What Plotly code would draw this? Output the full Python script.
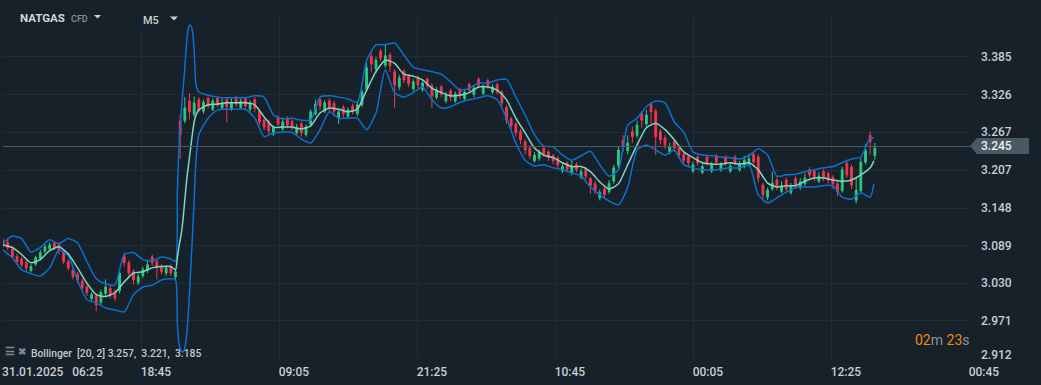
import plotly.graph_objects as go

# ---------- data ----------
candle_open = [
 3.097,3.094,3.083,3.072,3.068,3.062,3.050,3.060,3.069,3.080,
 3.084,3.093,3.090,3.080,3.064,3.050,3.044,3.033,3.024,3.006,
 3.010,3.000,3.014,3.022,3.016,3.018,3.072,3.062,3.048,3.031,
 3.042,3.050,3.071,3.064,3.056,3.046,3.056,3.040,3.285,3.285,
 3.316,3.295,3.318,3.300,3.320,3.303,3.320,3.305,3.318,3.304,
 3.320,3.306,3.319,3.303,3.318,3.300,3.286,3.282,3.264,3.290,
 3.272,3.288,3.284,3.266,3.280,3.263,3.280,3.296,3.318,3.300,
 3.316,3.312,3.290,3.306,3.292,3.308,3.296,3.310,3.335,3.386,
 3.366,3.394,3.372,3.388,3.362,3.338,3.362,3.355,3.335,3.352,
 3.334,3.350,3.340,3.322,3.338,3.316,3.332,3.316,3.334,3.320,
 3.342,3.326,3.350,3.328,3.348,3.330,3.342,3.330,3.306,3.288,
 3.280,3.268,3.252,3.242,3.222,3.226,3.242,3.236,3.230,3.226,
 3.206,3.218,3.203,3.216,3.196,3.208,3.194,3.186,3.164,3.178,
 3.174,3.190,3.215,3.254,3.238,3.268,3.262,3.296,3.280,3.310,
 3.300,3.268,3.258,3.236,3.252,3.242,3.232,3.228,3.206,3.228,
 3.204,3.228,3.206,3.230,3.208,3.228,3.206,3.228,3.208,3.213,
 3.216,3.232,3.228,3.184,3.165,3.178,3.192,3.174,3.192,3.172,
 3.194,3.180,3.186,3.208,3.206,3.190,3.205,3.202,3.196,3.186,
 3.175,3.218,3.212,3.160,3.175,3.220,3.262,3.230]
candle_high = [
 3.101,3.098,3.087,3.076,3.071,3.066,3.060,3.073,3.083,3.092,
 3.094,3.096,3.094,3.083,3.067,3.054,3.048,3.037,3.028,3.016,
 3.014,3.019,3.036,3.027,3.020,3.050,3.078,3.066,3.052,3.045,
 3.056,3.065,3.075,3.068,3.060,3.058,3.060,3.052,3.295,3.322,
 3.328,3.323,3.322,3.318,3.323,3.320,3.323,3.320,3.322,3.320,
 3.324,3.320,3.322,3.317,3.322,3.303,3.290,3.286,3.278,3.294,
 3.290,3.292,3.287,3.280,3.284,3.279,3.303,3.318,3.321,3.317,
 3.320,3.316,3.303,3.310,3.306,3.312,3.316,3.334,3.376,3.392,
 3.385,3.398,3.406,3.392,3.366,3.357,3.366,3.358,3.350,3.356,
 3.348,3.353,3.344,3.338,3.341,3.330,3.335,3.331,3.337,3.334,
 3.345,3.340,3.353,3.342,3.351,3.342,3.345,3.333,3.309,3.291,
 3.283,3.272,3.256,3.246,3.236,3.240,3.246,3.239,3.233,3.230,
 3.218,3.222,3.224,3.220,3.210,3.212,3.197,3.190,3.177,3.181,
 3.192,3.216,3.244,3.262,3.262,3.276,3.285,3.300,3.302,3.314,
 3.304,3.272,3.262,3.250,3.255,3.245,3.236,3.231,3.221,3.231,
 3.217,3.232,3.220,3.233,3.220,3.231,3.218,3.231,3.222,3.230,
 3.233,3.236,3.232,3.188,3.180,3.205,3.196,3.190,3.196,3.187,
 3.198,3.195,3.202,3.212,3.209,3.204,3.209,3.205,3.200,3.190,
 3.213,3.224,3.216,3.195,3.226,3.248,3.268,3.250]
candle_low = [
 3.086,3.082,3.068,3.059,3.055,3.048,3.047,3.057,3.066,3.077,
 3.081,3.082,3.075,3.060,3.050,3.036,3.030,3.019,3.010,3.002,
 2.986,2.996,3.010,3.006,3.002,3.014,3.056,3.040,3.028,3.027,
 3.038,3.046,3.057,3.036,3.044,3.042,3.041,3.036,3.225,3.281,
 3.287,3.291,3.298,3.296,3.304,3.300,3.306,3.302,3.282,3.300,
 3.307,3.303,3.304,3.299,3.298,3.278,3.270,3.264,3.261,3.276,
 3.269,3.273,3.270,3.263,3.260,3.260,3.276,3.293,3.301,3.297,
 3.298,3.292,3.280,3.290,3.288,3.295,3.292,3.307,3.331,3.362,
 3.360,3.378,3.368,3.362,3.305,3.333,3.344,3.338,3.331,3.336,
 3.330,3.335,3.305,3.318,3.322,3.312,3.316,3.313,3.319,3.316,
 3.329,3.322,3.336,3.325,3.335,3.327,3.326,3.308,3.280,3.272,
 3.260,3.248,3.232,3.225,3.219,3.222,3.228,3.222,3.217,3.211,
 3.203,3.204,3.199,3.204,3.193,3.193,3.170,3.170,3.160,3.163,
 3.170,3.186,3.210,3.236,3.232,3.250,3.258,3.274,3.276,3.280,
 3.231,3.248,3.240,3.232,3.236,3.225,3.218,3.214,3.203,3.214,
 3.201,3.214,3.203,3.215,3.205,3.214,3.203,3.215,3.205,3.210,
 3.213,3.212,3.188,3.162,3.160,3.175,3.176,3.171,3.174,3.169,
 3.178,3.176,3.183,3.195,3.190,3.187,3.190,3.186,3.178,3.166,
 3.172,3.195,3.178,3.155,3.172,3.216,3.232,3.224]
candle_close = [
 3.090,3.086,3.071,3.064,3.059,3.054,3.056,3.070,3.078,3.087,
 3.090,3.086,3.082,3.064,3.054,3.040,3.035,3.023,3.015,3.012,
 2.996,3.015,3.024,3.012,3.007,3.046,3.062,3.046,3.035,3.040,
 3.051,3.059,3.062,3.054,3.048,3.054,3.046,3.048,3.263,3.305,
 3.299,3.313,3.302,3.314,3.308,3.316,3.310,3.313,3.307,3.314,
 3.311,3.316,3.308,3.313,3.305,3.283,3.275,3.269,3.274,3.280,
 3.283,3.278,3.274,3.275,3.266,3.275,3.299,3.311,3.308,3.313,
 3.305,3.300,3.299,3.296,3.302,3.299,3.310,3.330,3.368,3.374,
 3.380,3.383,3.387,3.371,3.341,3.352,3.349,3.343,3.346,3.341,
 3.344,3.340,3.324,3.333,3.327,3.325,3.322,3.327,3.324,3.330,
 3.333,3.336,3.341,3.338,3.340,3.338,3.330,3.313,3.286,3.277,
 3.266,3.255,3.239,3.230,3.231,3.236,3.233,3.227,3.222,3.216,
 3.213,3.209,3.213,3.208,3.205,3.198,3.183,3.176,3.172,3.169,
 3.187,3.211,3.239,3.245,3.250,3.260,3.278,3.286,3.294,3.299,
 3.260,3.255,3.247,3.244,3.242,3.231,3.223,3.219,3.216,3.219,
 3.213,3.219,3.216,3.220,3.216,3.219,3.214,3.219,3.216,3.223,
 3.225,3.220,3.195,3.169,3.176,3.187,3.180,3.183,3.178,3.183,
 3.183,3.189,3.195,3.200,3.197,3.198,3.195,3.192,3.186,3.173,
 3.208,3.200,3.184,3.176,3.220,3.239,3.252,3.242]

band_bars = (list(range(0, 190, 10))
             + [185, 187, 189, 191, 193, 195, 197, 199, 201, 203, 205, 207, 210]
             + list(range(220, 940, 10)) + [934])
band_upper = [
 3.093,3.104,3.100,3.079,3.086,3.098,3.092,3.100,3.093,3.064,
 3.037,3.029,3.027,3.075,3.078,3.067,3.065,3.071,3.068,
 3.064,3.176,3.255,3.294,3.333,3.368,3.409,3.432,3.435,3.427,3.396,3.341,3.330,
 3.325,3.322,3.321,3.321,3.321,3.324,3.322,3.294,3.288,3.289,
 3.286,3.286,3.322,3.324,3.322,3.319,3.314,3.380,3.404,3.404,
 3.407,3.388,3.369,3.365,3.362,3.358,3.346,3.333,3.336,3.344,
 3.344,3.349,3.350,3.322,3.294,3.263,3.245,3.244,3.231,3.223,
 3.230,3.237,3.216,3.198,3.208,3.278,3.289,3.307,3.316,3.313,
 3.283,3.267,3.236,3.231,3.230,3.228,3.227,3.225,3.230,3.241,
 3.231,3.198,3.200,3.201,3.205,3.208,3.211,3.213,3.219,3.225,
 3.228,3.258,3.258]
band_mid = [
 3.090,3.086,3.075,3.062,3.067,3.081,3.087,3.076,3.054,3.030,
 3.012,3.009,3.015,3.032,3.046,3.048,3.054,3.056,3.056,
 3.051,3.070,3.090,3.106,3.129,3.161,3.192,3.216,3.239,3.263,3.283,3.294,3.302,
 3.310,3.311,3.313,3.313,3.313,3.310,3.291,3.275,3.275,3.275,
 3.272,3.277,3.297,3.305,3.303,3.299,3.303,3.333,3.362,3.380,
 3.375,3.358,3.355,3.349,3.336,3.329,3.324,3.325,3.329,3.338,
 3.338,3.333,3.318,3.289,3.266,3.242,3.231,3.227,3.219,3.213,
 3.213,3.205,3.189,3.178,3.186,3.216,3.247,3.274,3.281,3.271,
 3.255,3.236,3.227,3.219,3.217,3.217,3.219,3.217,3.219,3.208,
 3.187,3.181,3.183,3.183,3.190,3.195,3.195,3.192,3.190,3.192,
 3.200,3.211,3.222]
band_lower = [
 3.082,3.070,3.051,3.045,3.041,3.054,3.082,3.073,3.034,3.004,
 2.999,2.991,2.988,2.985,3.012,3.024,3.027,3.035,3.037,
 3.035,2.965,2.933,2.924,2.922,2.928,2.949,2.988,3.043,3.098,3.161,3.223,3.263,
 3.289,3.302,3.303,3.303,3.303,3.289,3.260,3.266,3.267,3.267,
 3.256,3.250,3.271,3.299,3.289,3.289,3.289,3.271,3.297,3.365,
 3.329,3.322,3.329,3.338,3.318,3.305,3.307,3.314,3.318,3.321,
 3.324,3.318,3.289,3.250,3.223,3.214,3.216,3.211,3.208,3.203,
 3.198,3.181,3.169,3.159,3.153,3.181,3.239,3.247,3.239,3.231,
 3.239,3.216,3.211,3.208,3.208,3.209,3.211,3.211,3.216,3.169,
 3.156,3.164,3.173,3.180,3.181,3.181,3.183,3.183,3.165,3.162,
 3.172,3.165,3.186]

last_price = 3.2445
y_tick_labels = ["3.385", "3.326", "3.267", "3.207", "3.148", "3.089", "3.030", "2.971", "2.912"]
y_label_values = [3.385, 3.326, 3.267, 3.207, 3.148, 3.089, 3.030, 2.971, 2.918]
y_grid_values = [3.385, 3.326, 3.2665, 3.207, 3.148, 3.089, 3.030, 2.971, 2.9125]
x_tick_labels = ["31.01.2025\u00a0\u00a0\u00a006:25", "18:45", "09:05", "21:25", "10:45", "00:05", "12:25", "00:45"]
x_label_bars = [53, 164, 312, 460, 608, 756, 904, 1052]
x_grid_bars = [0, 148, 296, 444, 592, 740, 888, 1036]

# ---------- style ----------
W, H = 1041, 385
BG = "#17212a"
GRID = "#212c35"
TEXT = "#c9ced1"
FONT = "Roboto, Arial, sans-serif"
RED = "#f5364f"
GREEN = "#2cc981"
BLUE = "#0a71cf"
MID = "#7ed6c5"


def px(x):
    return x / W


def py(y):
    return 1 - y / H


fig = go.Figure()
candle_bars = list(range(0, 5 * len(candle_close), 5))
fig.add_trace(go.Candlestick(
    x=candle_bars, open=candle_open, high=candle_high, low=candle_low, close=candle_close,
    increasing=dict(line=dict(color=GREEN, width=1), fillcolor=GREEN),
    decreasing=dict(line=dict(color=RED, width=1), fillcolor=RED),
    whiskerwidth=0, showlegend=False, hoverinfo="skip"))
for vals, col in ((band_upper, BLUE), (band_lower, BLUE), (band_mid, MID)):
    fig.add_trace(go.Scatter(x=band_bars, y=vals, mode="lines", showlegend=False, hoverinfo="skip",
                             line=dict(color=col, width=1.5, shape="spline", smoothing=0.6)))
# last-price line on the wider overlay axes
fig.add_trace(go.Scatter(x=[0, 1038], y=[last_price, last_price], mode="lines", xaxis="x2", yaxis="y2",
                         showlegend=False, hoverinfo="skip", line=dict(color="#4b5962", width=1)))

Y_RANGE = [2.911, 3.4462]
Y_DOMAIN = [26 / H, (H - 18) / H]
fig.update_layout(
    width=W, height=H, margin=dict(l=0, r=0, t=0, b=0), autosize=False, boxgap=0.45,
    paper_bgcolor=BG, plot_bgcolor="rgba(0,0,0,0)", showlegend=False,
    font=dict(family=FONT, color=TEXT, size=12),
    xaxis=dict(domain=[3 / W, 969 / W], range=[0, 1036], showgrid=False, zeroline=False, automargin=False,
               showticklabels=False, ticks="", rangeslider=dict(visible=False), anchor="y",
               minor=dict(tickmode="array", tickvals=x_grid_bars, showgrid=True, gridcolor=GRID, gridwidth=1, ticks="")),
    yaxis=dict(domain=Y_DOMAIN, range=Y_RANGE, side="right", anchor="x", zeroline=False, showgrid=False, automargin=False,
               showticklabels=False, ticks="",
               minor=dict(tickmode="array", tickvals=y_grid_values, showgrid=True, gridcolor=GRID, gridwidth=1, ticks="")),
    xaxis2=dict(domain=[3 / W, 1], range=[0, 1113.2], anchor="y2", side="bottom", automargin=False,
                showgrid=False, zeroline=False, showline=False,
                tickmode="array", tickvals=x_label_bars, ticktext=x_tick_labels,
                ticks="outside", ticklen=2, tickcolor="rgba(0,0,0,0)",
                tickfont=dict(family=FONT, size=12, color=TEXT, weight=500)),
    yaxis2=dict(domain=Y_DOMAIN, range=Y_RANGE, anchor="x2", visible=False, automargin=False),
)

# mask of the grid behind the M5 selector, last-price tag, menu carets
fig.add_shape(type="rect", xref="paper", yref="paper", line_width=0, fillcolor=BG,
              x0=px(120), x1=px(165), y0=py(32), y1=py(17))
poly = [(970, 146), (977, 138), (1029, 138), (1029, 154), (977, 154)]
fig.add_shape(type="path", xref="paper", yref="paper", line_width=0, fillcolor="#4a5a64",
              path="M " + " L ".join(f"{px(a):.5f},{py(b):.5f}" for a, b in poly) + " Z")
for pts in ([(94, 15), (101, 15), (97.5, 18.5)], [(170, 16.5), (178, 16.5), (174, 20.5)]):
    fig.add_shape(type="path", xref="paper", yref="paper", line_width=0, fillcolor="#c9ced1",
                  path="M " + " L ".join(f"{px(a):.5f},{py(b):.5f}" for a, b in pts) + " Z")


def note(x, y, text, size=12, color=TEXT, weight=None, anchor="left"):
    fig.add_annotation(xref="paper", yref="paper", x=px(x), y=py(y), text=text, showarrow=False,
                       xanchor=anchor, yanchor="middle", align="left", borderpad=0, borderwidth=0,
                       font=dict(family=FONT, size=size, color=color, weight=weight))


# price scale labels, placed on the price axis
for value, label in zip(y_label_values, y_tick_labels):
    fig.add_annotation(xref="paper", yref="y", x=px(981), y=value, text=label, showarrow=False,
                       xanchor="left", yanchor="middle", borderpad=0, borderwidth=0,
                       font=dict(family=FONT, size=12, color=TEXT, weight=500))

note(20, 18, "NATGAS", 11.5, "#d2d6d8", 700)
note(71, 19, "CFD", 9, "#8a9398", 500)
note(143, 20, "M5", 11, "#c9ced1", 500)
note(981, 146, "3.245", 12, "#eef0f1", 500)
note(5, 351, "☰", 11, "#7c868b", 700)
note(18, 351, "✖", 10, "#7c868b", 700)
note(31, 353, "Bollinger\u00a0\u00a0[20,\u00a02]\u00a03.257,\u00a0\u00a03.221,\u00a0\u00a03.185", 10.3, "#c5cacc", 500)
note(915, 340, "<span style='color:#f08a0c'>02</span><span style='color:#8b9398'>m</span>"
               "\u00a0<span style='color:#f08a0c'>23</span><span style='color:#8b9398'>s</span>", 14, "#8b9398")

fig.write_html("out.html", config=dict(displayModeBar=False),
               post_script="document.body.style.margin='0';document.body.style.background='" + BG + "';")
